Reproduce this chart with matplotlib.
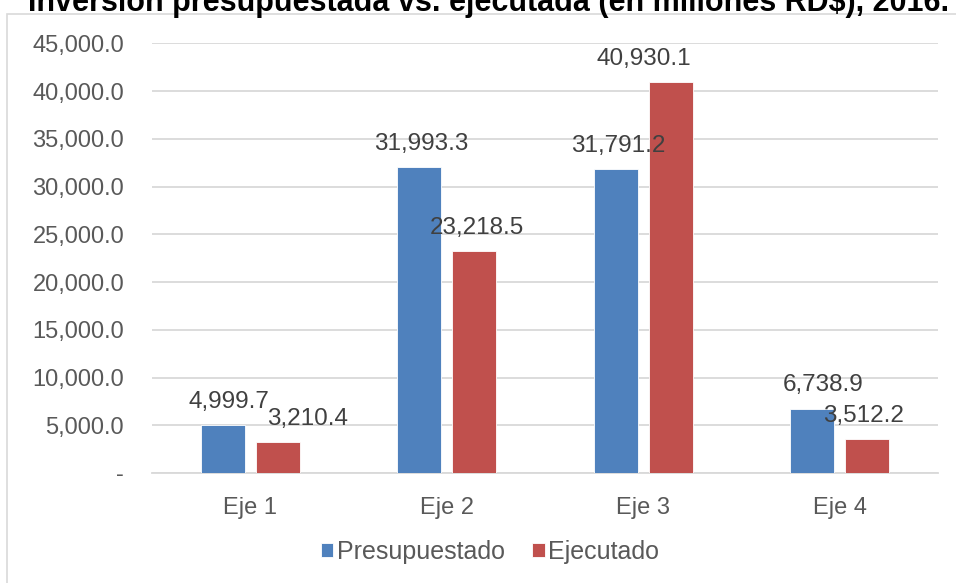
import numpy as np
import matplotlib.pyplot as plt
from matplotlib.patches import Rectangle
from matplotlib.ticker import FuncFormatter

# data
categorias = ["Eje 1", "Eje 2", "Eje 3", "Eje 4"]
presupuestado = [4999.7, 31993.3, 31791.2, 6738.9]
ejecutado = [3210.4, 23218.5, 40930.1, 3512.2]
titulo = "Inversión presupuestada vs. ejecutada (en millones RD$), 2016."

# manual label nudges (pixels), as in the original chart
nudge_p = [(6, 0), (2, 0), (3, 0), (11, 0)]
nudge_e = [(30, 0), (3, 0), (-27, 0), (-4, 0)]

plt.rcParams['font.family'] = ['Liberation Sans', 'DejaVu Sans']

fig = plt.figure(figsize=(9.56, 5.83), dpi=100)
ax = fig.add_axes([152/956, 1 - 473/583, (938 - 152)/956, (473 - 43.3)/583])

# chart frame (partly clipped like the screenshot)
fig.patches.append(Rectangle((7/956, -0.05), 1.2, 1 - 14/583 + 0.05, transform=fig.transFigure,
                             fill=False, edgecolor='#d9d9d9', linewidth=1.2))
fig.text(28/956, 1 - 11/583, titulo, fontsize=22, fontweight='bold', color='black',
         ha='left', va='baseline')

x = np.arange(len(categorias))
w = 0.225
gap = 0.056
b1 = ax.bar(x - (w + gap) / 2, presupuestado, w, color='#4f81bd', edgecolor='white',
            linewidth=0.6, label='Presupuestado', zorder=3)
b2 = ax.bar(x + (w + gap) / 2, ejecutado, w, color='#c0504d', edgecolor='white',
            linewidth=0.6, label='Ejecutado', zorder=3)

for bars, vals, nud in [(b1, presupuestado, nudge_p), (b2, ejecutado, nudge_e)]:
    for r, v, (dx, dy) in zip(bars, vals, nud):
        ax.annotate(f"{v:,.1f}", (r.get_x() + r.get_width() / 2, v),
                    xytext=(dx * 0.72, 17 + dy), textcoords='offset points',
                    ha='center', va='center', fontsize=17.5, color='#404040', zorder=4)

ax.set_xlim(-0.5, 3.5)
ax.set_ylim(0, 45000)
ax.set_yticks(np.arange(0, 45001, 5000))
ax.yaxis.set_major_formatter(FuncFormatter(lambda v, p: "-" if v == 0 else f"{v:,.1f}"))
ax.set_xticks(x)
ax.set_xticklabels(categorias)
ax.tick_params(axis='both', length=0, labelsize=17, labelcolor='#595959')
ax.tick_params(axis='y', pad=20)
ax.tick_params(axis='x', pad=17)
ax.grid(axis='y', color='#d9d9d9', linewidth=1.3, zorder=0)
for s in ['top', 'right', 'left']:
    ax.spines[s].set_visible(False)
ax.spines['bottom'].set_color('#d9d9d9')
ax.spines['bottom'].set_linewidth(1.3)

ax.legend(loc='center', bbox_to_anchor=(490/956, 1 - 552/583), bbox_transform=fig.transFigure,
          ncol=2, frameon=False, fontsize=18, handlelength=0.5, handleheight=0.5,
          handletextpad=0.15, columnspacing=1.1, labelcolor='#595959')

fig.savefig("out.png", dpi=100)
